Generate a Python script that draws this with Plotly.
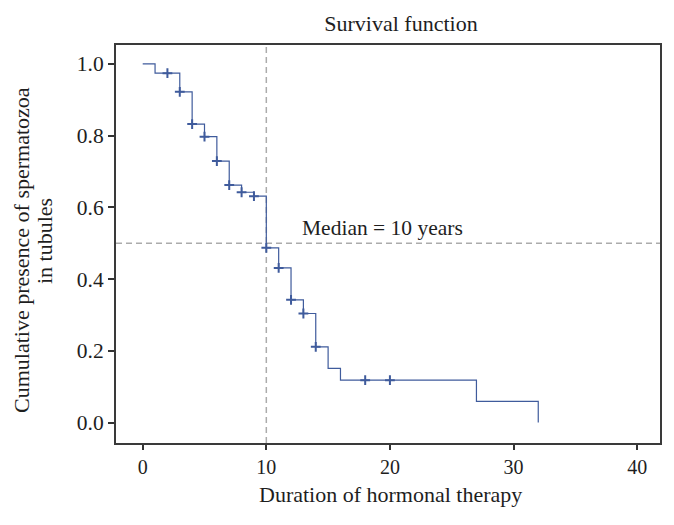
import plotly.graph_objects as go

# Kaplan-Meier step curve (time in years, cumulative survival)
step_times = [0, 1, 3, 4, 5, 6, 7, 8, 9, 10, 11, 12, 13, 14, 15, 16, 27, 32]
step_surv = [1.0, 0.974, 0.922, 0.832, 0.797, 0.729, 0.662, 0.642, 0.631,
             0.487, 0.431, 0.342, 0.304, 0.211, 0.151, 0.118, 0.059, 0.0]

# Censored observations
censor_times = [2, 3, 4, 5, 6, 7, 8, 9, 10, 11, 12, 13, 14, 18, 20]
censor_surv = [0.974, 0.922, 0.832, 0.797, 0.729, 0.662, 0.642, 0.631,
               0.487, 0.431, 0.342, 0.304, 0.211, 0.118, 0.118]

median_time = 10
median_level = 0.5
median_label = "Median = 10 years"

x_ticks = [0, 10, 20, 30, 40]
y_ticks = [0.0, 0.2, 0.4, 0.6, 0.8, 1.0]

FONT = "Liberation Serif"
TEXT = "#1e1e1e"
LINE_COLOR = "#3f5b9c"
DASH_COLOR = "#ababab"

# the page body adds an 8px offset, so the figure is drawn 8px smaller
OFF = 8
W, H = 674 - OFF, 525 - OFF
ML, MR, MT, MB = 116 - OFF, 14, 45 - OFF, 82
PW, PH = W - ML - MR, H - MT - MB


def px_x(px):
    return (px - OFF - ML) / PW


def px_y(py):
    return (MT + PH - (py - OFF)) / PH


fig = go.Figure()

fig.add_trace(go.Scatter(
    x=step_times, y=step_surv, mode="lines", line_shape="hv",
    line=dict(color=LINE_COLOR, width=1.2), hoverinfo="skip", showlegend=False))

fig.add_trace(go.Scatter(
    x=censor_times, y=censor_surv, mode="markers",
    marker=dict(symbol="cross-thin", size=7, line=dict(color=LINE_COLOR, width=2)),
    showlegend=False))

fig.add_vline(x=median_time, line=dict(color=DASH_COLOR, width=1.5, dash="6px,4px"), layer="below")
fig.add_hline(y=median_level, line=dict(color=DASH_COLOR, width=1.5, dash="6px,4px"), layer="below")

fig.add_annotation(x=19.4, y=0.543, text=median_label, showarrow=False,
                   font=dict(family=FONT, size=21.5, color=TEXT))

# axis titles placed as paper annotations
fig.add_annotation(xref="paper", yref="paper", x=px_x(390), y=px_y(494),
                   text="Duration of hormonal therapy", showarrow=False,
                   xanchor="center", yanchor="middle",
                   font=dict(family=FONT, size=22, color=TEXT))
fig.add_annotation(xref="paper", yref="paper", x=px_x(22), y=px_y(250),
                   text="Cumulative presence of spermatozoa", showarrow=False,
                   textangle=-90, xanchor="center", yanchor="middle",
                   font=dict(family=FONT, size=22, color=TEXT))
fig.add_annotation(xref="paper", yref="paper", x=px_x(44), y=px_y(241),
                   text="in tubules", showarrow=False,
                   textangle=-90, xanchor="center", yanchor="middle",
                   font=dict(family=FONT, size=22, color=TEXT))

fig.update_layout(
    width=W, height=H,
    margin=dict(l=ML, r=MR, t=MT, b=MB, autoexpand=False),
    paper_bgcolor="white", plot_bgcolor="white",
    font=dict(family=FONT, size=21.5, color=TEXT),
    title=dict(text="Survival function", x=(401 - OFF) / W, xanchor="center",
               y=1 - (23 - OFF) / H, yanchor="middle",
               font=dict(family=FONT, size=22, color=TEXT)),
)

fig.update_xaxes(
    range=[-2.16, 41.85], tickvals=x_ticks, ticks="outside", ticklen=5, tickwidth=1.5,
    tickcolor="#333", showline=True, linecolor="#3a3a3a", linewidth=2, mirror=True,
    showgrid=False, zeroline=False, automargin=False, tickfont=dict(size=20))

fig.update_yaxes(
    range=[-0.057, 1.0525], tickvals=y_ticks, tickformat=".1f", ticks="outside",
    ticklen=6, tickwidth=1.5, tickcolor="#333", showline=True, linecolor="#3a3a3a",
    linewidth=2, mirror=True, showgrid=False, zeroline=False, automargin=False,
    tickfont=dict(size=21.5))

fig.write_html("out.html")
